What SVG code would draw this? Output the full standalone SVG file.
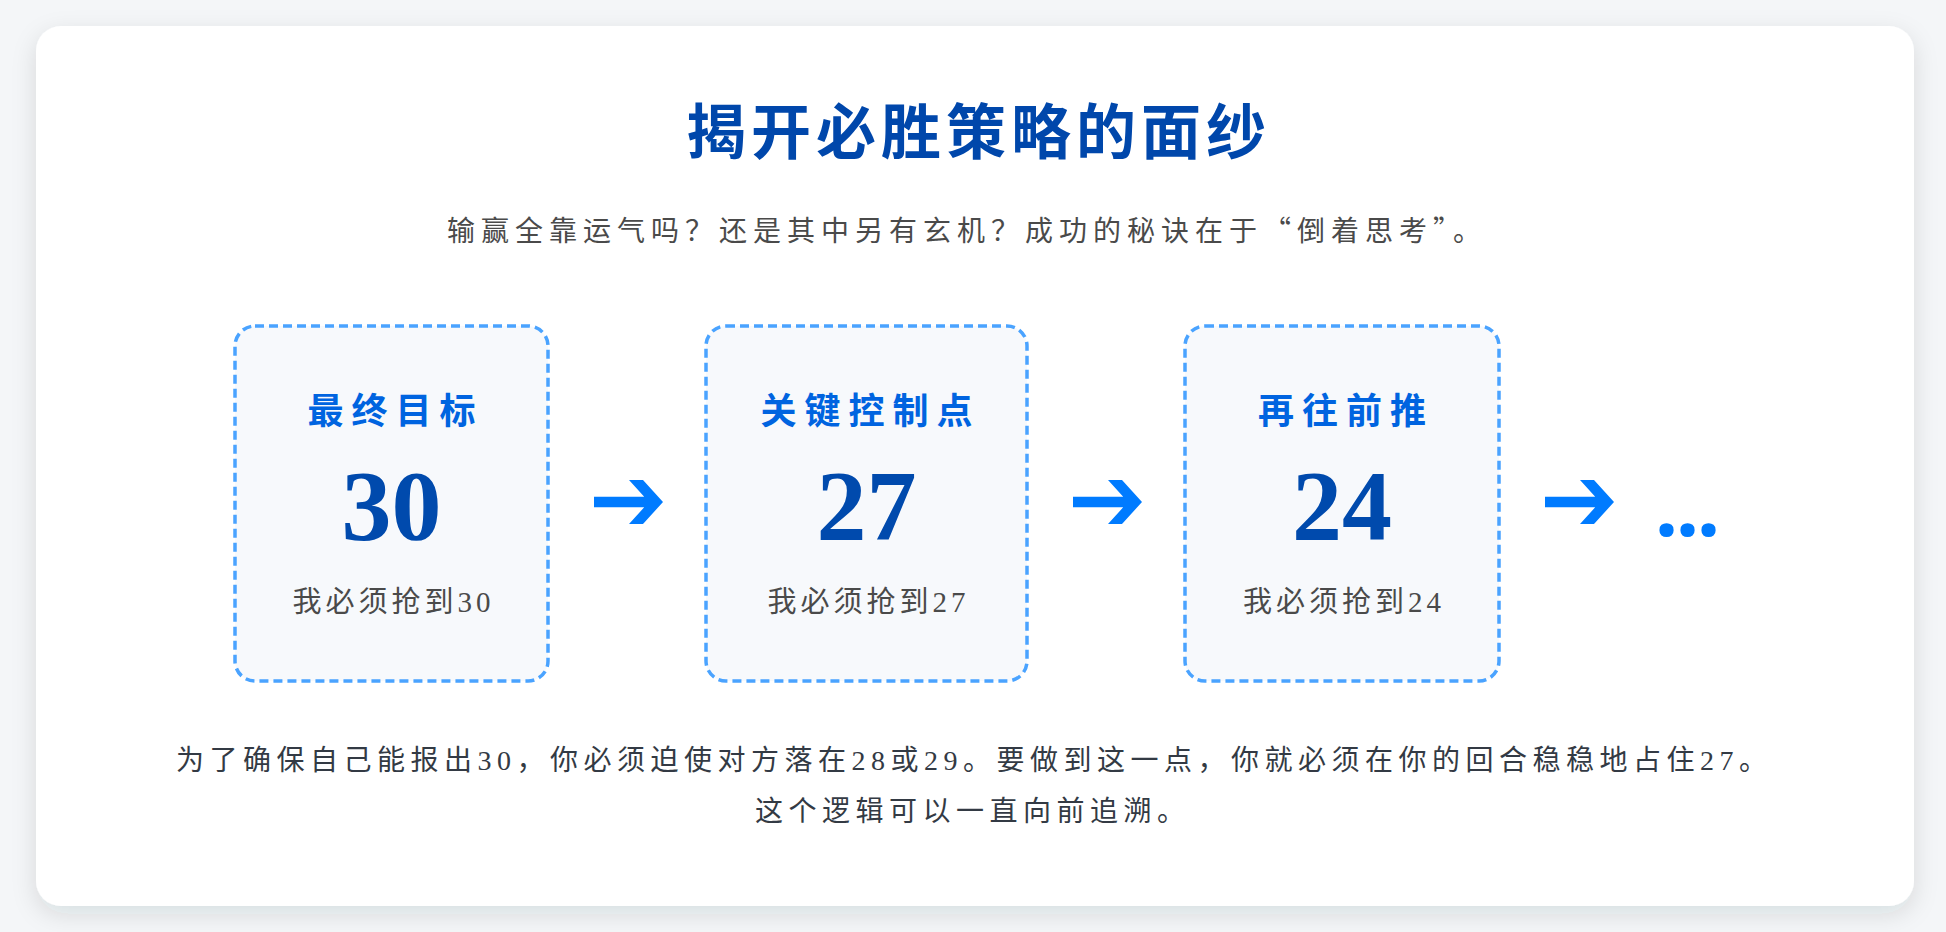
<svg xmlns="http://www.w3.org/2000/svg" width="1946" height="932" viewBox="0 0 1946 932">
  <defs>
    <filter id="shadow" x="-5%" y="-5%" width="110%" height="115%">
      <feDropShadow dx="0" dy="8" stdDeviation="12" flood-color="#1f2d3d" flood-opacity="0.12"/>
    </filter>
    <path id="arrow" d="M0,-5.3 L50.2,-5.3 L35,-22 L49,-22 L69,0 L49,22 L35,22 L50.2,5.3 L0,5.3 Z"/>
  </defs>
  <style>
    .cjk { font-family: "Noto Sans CJK SC", sans-serif; }
    .mix { font-family: "Liberation Serif", "Noto Sans CJK SC", serif; }
    .title { font-size: 60px; font-weight: 700; fill: #0047ab; letter-spacing: 5px; }
    .sub { font-size: 28px; fill: #4a4a4a; letter-spacing: 6px; }
    .box { fill: #f7f9fc; stroke: #4aa3ff; stroke-width: 3.5; stroke-dasharray: 9 5; }
    .btitle { font-size: 36px; font-weight: 700; fill: #0064e0; letter-spacing: 8px; text-anchor: middle; }
    .num { font-family: "Liberation Serif", serif; font-size: 100px; font-weight: 700; fill: #004aad; text-anchor: middle; }
    .bsub { font-size: 29px; fill: #4a4a4a; letter-spacing: 4px; text-anchor: middle; }
    .body { font-size: 28px; fill: #333a44; letter-spacing: 5.5px; }
    .arr { fill: #007bff; }
    .dots { font-family: "Noto Sans", sans-serif; font-size: 82px; font-weight: 700; fill: #007bff; letter-spacing: -2px; }
  </style>
  <rect x="0" y="0" width="1946" height="932" fill="#f4f6f8"/>
  <rect x="36" y="26" width="1878" height="880" rx="25" ry="25" fill="#ffffff" filter="url(#shadow)"/>

  <g id="header">
    <text class="cjk title" x="686" y="154">揭开必胜策略的面纱</text>
    <text class="cjk sub" x="447" y="241">输赢全靠运气吗？还是其中另有玄机？成功的秘诀在于“倒着思考”。</text>
  </g>

  <g id="node-30">
    <rect class="box" x="235" y="326" width="313" height="355" rx="20" ry="20"/>
    <text class="cjk btitle" x="395.5" y="424">最终目标</text>
    <text class="num" x="391.5" y="539">30</text>
    <text class="mix bsub" x="393.5" y="612">我必须抢到30</text>
  </g>

  <g id="node-27">
    <rect class="box" x="706" y="326" width="321" height="355" rx="20" ry="20"/>
    <text class="cjk btitle" x="870.5" y="424">关键控制点</text>
    <text class="num" x="866.5" y="539">27</text>
    <text class="mix bsub" x="868.5" y="612">我必须抢到27</text>
  </g>

  <g id="node-24">
    <rect class="box" x="1185" y="326" width="314" height="355" rx="20" ry="20"/>
    <text class="cjk btitle" x="1346" y="424">再往前推</text>
    <text class="num" x="1342" y="539">24</text>
    <text class="mix bsub" x="1344" y="612">我必须抢到24</text>
  </g>

  <g id="node-more">
    <text class="dots" x="1655" y="536">...</text>
  </g>

  <g id="connectors">
    <use href="#arrow" class="arr" x="594" y="502"/>
    <use href="#arrow" class="arr" x="1073" y="502"/>
    <use href="#arrow" class="arr" x="1545" y="502"/>
  </g>

  <g id="footer">
    <text class="mix body" x="176" y="770">为了确保自己能报出30，你必须迫使对方落在28或29。要做到这一点，你就必须在你的回合稳稳地占住27。</text>
    <text class="mix body" x="755" y="821">这个逻辑可以一直向前追溯。</text>
  </g>
</svg>
